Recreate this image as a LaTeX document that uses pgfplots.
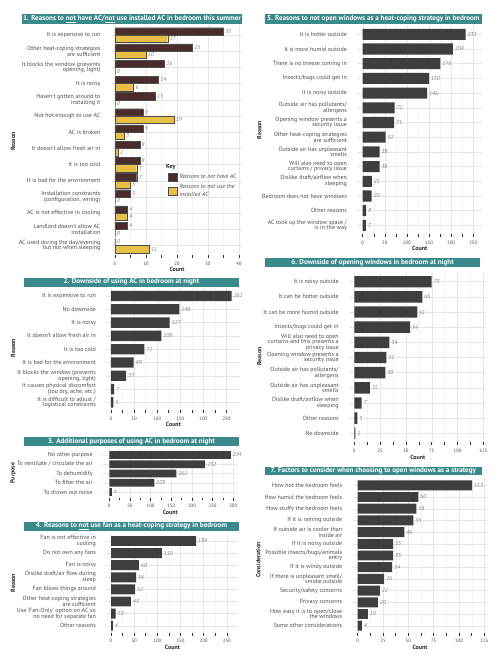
\documentclass[border=0pt]{standalone}
\usepackage{fontspec}
\setmainfont{PT Sans}
\usepackage{pgfplots}
\pgfplotsset{compat=1.18}
\definecolor{tealb}{HTML}{3A8A8C}
\definecolor{brownbar}{HTML}{4A2C2A}
\definecolor{yellowbar}{HTML}{E9C046}
\definecolor{greybar}{HTML}{3E3E3E}
\definecolor{labcol}{HTML}{4D4D4D}
\newcommand{\lf}{\fontsize{6}{5.7}\selectfont}
\newcommand{\bnf}{\fontsize{7.1}{7.3}\selectfont\bfseries}
\newcommand{\tf}{\fontsize{4.8}{5}\selectfont}
\newcommand{\vf}{\fontsize{5.7}{5.8}\selectfont\itshape}
\pgfplotsset{
 panel/.style={
   scale only axis, xbar, y dir=reverse,
   axis x line*=bottom, axis y line*=left, axis line style={draw=none},
   /pgf/number format/assume math mode=true,
   tick align=outside,
   xtick style={draw=black!80, line width=0.5pt},
   major tick length=3pt,
   ytick style={draw=none},
   minor x tick num=1,
   minor tick style={draw=none},
   xmajorgrids, ymajorgrids, xminorgrids,
   major grid style={black!10, line width=0.4pt},
   minor grid style={black!5, line width=0.3pt},
   xticklabel style={font=\tf, text=labcol},
   yticklabel style={font=\lf, text=labcol, align=right, xshift=-4pt},
   xlabel={Count},
   every axis x label/.style={at={(axis description cs:0.5,0)}, anchor=center, yshift=-14.5pt, font=\bfseries\lf, text=black!85},
   nodes near coords, point meta=x,
   nodes near coords style={font=\vf, text=black!50, anchor=west, inner sep=1.8pt},
   enlargelimits=false,
   clip=false,
 },
 gbar/.style={fill=greybar, draw=none},
}
\newcommand{\banner}[5]{\fill[tealb] (#1pt,{(662-#4)*1pt}) rectangle (#2pt,{(662-#3)*1pt}); \node[text=white, font=\bnf] at ({(#1+#2)/2*1pt},{(662-(#3+#4)/2)*1pt}) {#5};}
\begin{document}
\begin{tikzpicture}
\useasboundingbox (0pt,0pt) rectangle (501pt,662pt);
\fill[white] (0pt,0pt) rectangle (501pt,662pt);

% ---------- Panel 1
\banner{22}{242}{14}{24}{1. Reasons to \underline{not} have AC/\underline{not} use installed AC in bedroom this summer}
\begin{axis}[panel, at={(111.9pt,406.68pt)}, anchor=south west, width=130.2pt, height=230.04pt,
  xmin=-1, xmax=41, ymin=-0.6, ymax=13.6, xtick={0,10,20,30,40},
  ytick={0,...,13}, bar width=0.45,
  yticklabel style={xshift=-1pt},
  yticklabels={{It is expensive to run},{Other heat-coping strategies\\are sufficient},{It blocks the window (prevents\\opening, light)},{It is noisy},{Haven't gotten around to\\installing it},{Not hot enough to use AC},{AC is broken},{It doesn't allow fresh air in},{It is too cold},{It is bad for the environment},{Installation constraints\\(configuration, wiring)},{AC is not effective in cooling},{Landlord doesn't allow AC\\installation},{AC used during the day/evening\\but not when sleeping}},
  legend style={at={(axis description cs:0.431,0.362)}, anchor=north west, draw=none, fill=none, font=\itshape\lf, text=labcol, row sep=0.5pt, inner sep=0pt},
  legend cell align=left,
  legend image code/.code={\draw[#1, draw=black!70, line width=0.3pt] (0pt,-4pt) rectangle (9pt,4pt);},
]
\addplot[fill=brownbar, draw=black!70, line width=0.3pt, bar shift=-0.225] coordinates {(35,0) (25,1) (16,2) (14,3) (13,4) (9,5) (9,6) (8,7) (8,8) (7,9) (5,10) (4,11) (4,12) (0,13)};
\addplot[fill=yellowbar, draw=black!70, line width=0.3pt, bar shift=0.225] coordinates {(17,0) (10,1) (0,2) (6,3) (0,4) (19,5) (3,6) (1,7) (7,8) (5,9) (0,10) (4,11) (0,12) (11,13)};
\addlegendentry{Reasons to not have AC}
\addlegendentry{\shortstack[l]{Reasons to not use the\\installed AC}}
\end{axis}
\node[anchor=west, inner sep=0pt, font=\bfseries\lf, text=black!85] at (166pt,495pt) {Key};
\node[rotate=90, font=\bfseries\lf, text=black!85] at (13pt,520.3pt) {Reason};

% ---------- Panel 2
\banner{24}{239}{277.7}{286.7}{2. Downside of using AC in bedroom at night}
\begin{axis}[panel, at={(106.38pt,251.62pt)}, anchor=south west, width=133.98pt, height=122.36pt,
  xmin=-10, xmax=280, ymin=-0.6, ymax=8.6, xtick={0,50,...,250},
  ytick={0,...,8}, bar width=0.78,
  yticklabels={{It is expensive to run},{No downside},{It is noisy},{It doesn't allow fresh air in},{It is too cold},{It is bad for the environment},{It blocks the window (prevents\\opening, light)},{It causes physical discomfort\\(too dry, ache, etc.)},{It is difficult to adjust /\\logistical constraints}},
]
\addplot[gbar] coordinates {(261,0) (148,1) (127,2) (109,3) (72,4) (49,5) (33,6) (7,7) (5,8)};
\end{axis}
\node[rotate=90, font=\bfseries\lf, text=black!85] at (13pt,314pt) {Reason};

% ---------- Panel 3
\banner{24}{239}{436.7}{446}{3. Additional purposes of using AC in bedroom at night}
\begin{axis}[panel, at={(103.1pt,164.45pt)}, anchor=south west, width=134.32pt, height=48.1pt,
  xmin=-15, xmax=310, ymin=-0.6, ymax=4.6, xtick={0,50,...,300},
  ytick={0,...,4}, bar width=0.85,
  yticklabels={{No other purpose},{To ventilate / circulate the air},{To dehumidify},{To filter the air},{To drown out noise}},
]
\addplot[gbar] coordinates {(294,0) (232,1) (162,2) (109,3) (6,4)};
\end{axis}
\node[rotate=90, font=\bfseries\lf, text=black!85] at (13pt,189pt) {Purpose};

% ---------- Panel 4
\banner{24}{239}{521.7}{530.7}{4. Reasons to \underline{not} use fan as a heat-coping strategy in bedroom}
\begin{axis}[panel, at={(106.37pt,29.04pt)}, anchor=south west, width=132.04pt, height=99.22pt,
  xmin=-10, xmax=275, ymin=-0.6, ymax=7.6, xtick={0,50,...,250},
  ytick={0,...,7}, bar width=0.82,
  yticklabels={{Fan is not effective in\\cooling},{Do not own any fans},{Fan is noisy},{Dislike draft/air flow during\\sleep},{Fan blows things around},{Other heat-coping strategies\\are sufficient},{Use `Fan-Only' option on AC so\\no need for separate fan},{Other reasons}},
]
\addplot[gbar] coordinates {(184,0) (110,1) (60,2) (54,3) (52,4) (43,5) (10,6) (4,7)};
\end{axis}
\node[rotate=90, font=\bfseries\lf, text=black!85] at (13pt,79pt) {Reason};

% ---------- Panel 5
\banner{265}{481.7}{14.3}{24}{5. Reasons to not open windows as a heat-coping strategy in bedroom}
\begin{axis}[panel, at={(357.4pt,427.78pt)}, anchor=south west, width=124.64pt, height=208.74pt,
  xmin=-12, xmax=270, ymin=-0.6, ymax=13.6, xtick={0,50,...,250},
  ytick={0,...,13}, bar width=0.75,
  yticklabels={{It is hotter outside},{It is more humid outside},{There is no breeze coming in},{Insects/bugs could get in},{It is noisy outside},{Outside air has pollutants/\\allergens},{Opening window presents a\\security issue},{Other heat-coping strategies\\are sufficient},{Outside air has unpleasant\\smells},{Will also need to open\\curtains / privacy issue},{Dislike draft/airflow when\\sleeping},{Bedroom does not have windows},{Other reasons},{AC took up the window space /\\is in the way}},
]
\addplot[gbar] coordinates {(233,0) (204,1) (176,2) (150,3) (146,4) (72,5) (71,6) (52,7) (38,8) (38,9) (21,10) (20,11) (8,12) (7,13)};
\end{axis}
\node[rotate=90, font=\bfseries\lf, text=black!85] at (259.3pt,532pt) {Reason};

% ---------- Panel 6
\banner{265}{480}{258.3}{267.3}{6. Downside of opening windows in bedroom at night}
\begin{axis}[panel, at={(349.14pt,219.6pt)}, anchor=south west, width=137.26pt, height=169.8pt,
  xmin=-5, xmax=128, ymin=-0.6, ymax=10.6, xtick={0,25,...,125},
  ytick={0,...,10}, bar width=0.75,
  yticklabels={{It is noisy outside},{It can be hotter outside},{It can be more humid outside},{Insects/bugs could get in},{Will also need to open\\curtains and this presents a\\privacy issue},{Opening window presents a\\security issue},{Outside air has pollutants/\\allergens},{Outside air has unpleasant\\smells},{Dislike draft/airflow when\\sleeping},{Other reasons},{No downside}},
]
\addplot[gbar] coordinates {(75,0) (66,1) (61,2) (54,3) (34,4) (31,5) (30,6) (15,7) (7,8) (3,9) (1,10)};
\end{axis}
\node[rotate=90, font=\bfseries\lf, text=black!85] at (259.3pt,305.3pt) {Reason};

% ---------- Panel 7
\banner{265}{481.7}{466.7}{475}{7. Factors to consider when choosing to open windows as a strategy}
\begin{axis}[panel, at={(352.64pt,29.28pt)}, anchor=south west, width=134.73pt, height=154.44pt,
  xmin=-5, xmax=128, ymin=-0.6, ymax=12.6, xtick={0,25,...,125},
  ytick={0,...,12}, bar width=0.85,
  yticklabels={{How hot the bedroom feels},{How humid the bedroom feels},{How stuffy the bedroom feels},{If it is raining outside},{If outside air is cooler than\\inside air},{If it is noisy outside},{Possible insects/bugs/animals\\entry},{If it is windy outside},{If there is unpleasant smell/\\smoke outside},{Security/safety concerns},{Privacy concerns},{How easy it is to open/close\\the windows},{Some other considerations}},
]
\addplot[gbar] coordinates {(113,0) (60,1) (58,2) (55,3) (46,4) (35,5) (35,6) (34,7) (26,8) (22,9) (20,10) (10,11) (4,12)};
\end{axis}
\node[rotate=90, font=\bfseries\lf, text=black!85] at (258.3pt,102pt) {Consideration};
\end{tikzpicture}
\end{document}
